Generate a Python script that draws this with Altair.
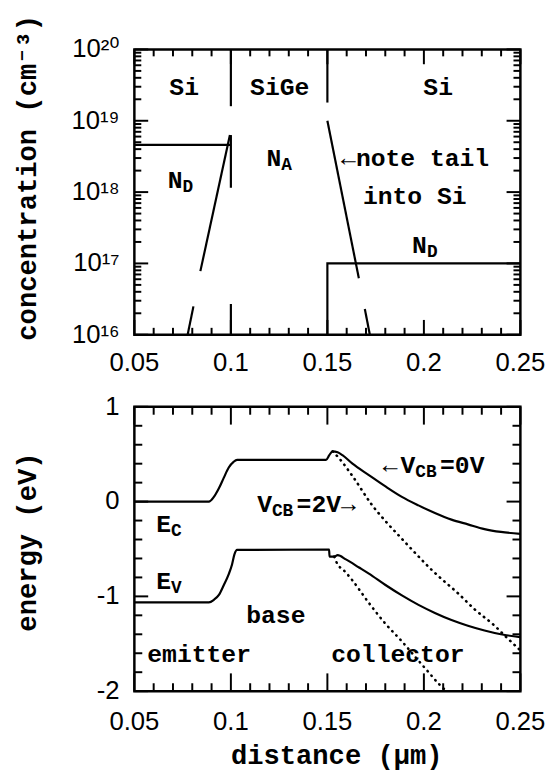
import altair as alt
import pandas as pd

# ---------------- data: top panel (doping profiles) ----------------
seg_names = ["nd_emitter", "if1_a", "if1_b", "if1_c", "if2_a",
             "na_left_a", "na_left_b", "na_right_a", "na_right_b", "nd_collector"]
seg_x = [[0.05, 0.1], [0.1, 0.1], [0.1, 0.1], [0.1, 0.1], [0.15, 0.15],
         [0.0776, 0.0806], [0.0842, 0.0995], [0.15, 0.1663], [0.1694, 0.172],
         [0.15, 0.15, 0.25]]
seg_c = [[4.6e18, 4.6e18], [1e20, 1.6e19], [6.3e18, 1.15e18], [2.7e16, 1e16], [1e20, 1.8e19],
         [1e16, 2.5e16], [7.8e16, 6.3e18], [1e19, 6.2e16], [2.3e16, 1e16],
         [1e16, 1e17, 1e17]]

# ---------------- data: bottom panel (band edges) ----------------
ec0_x = [0.05, 0.0886, 0.0912, 0.0938, 0.0963, 0.0989, 0.1014, 0.1032, 0.1493, 0.151, 0.1527,
         0.1553, 0.1578, 0.163, 0.1715, 0.1801, 0.1886, 0.1972, 0.2057, 0.2143, 0.2228,
         0.2314, 0.2399, 0.25]
ec0_y = [0.0, 0.0, 0.05, 0.14, 0.25, 0.36, 0.42, 0.44, 0.44, 0.49, 0.53,
         0.52, 0.49, 0.40, 0.28, 0.16, 0.05, -0.04, -0.12, -0.19, -0.24,
         -0.29, -0.32, -0.34]
ev0_x = [0.05, 0.0886, 0.0912, 0.0938, 0.0963, 0.0989, 0.1006, 0.1018, 0.1032, 0.1509, 0.1511,
         0.1536, 0.1553, 0.1596, 0.1664, 0.1715, 0.1801, 0.1886, 0.1972, 0.2057, 0.2143,
         0.2228, 0.2314, 0.2399, 0.25]
ev0_y = [-1.063, -1.063, -1.036, -0.985, -0.883, -0.765, -0.663, -0.56, -0.51, -0.505, -0.58,
         -0.58, -0.565, -0.61, -0.695, -0.76, -0.88, -0.99, -1.09, -1.175, -1.25,
         -1.31, -1.36, -1.40, -1.43]
ec2_x = [0.1527, 0.1562, 0.163, 0.1732, 0.1801, 0.1886, 0.1972, 0.204, 0.2091, 0.2177,
         0.2263, 0.2365, 0.2433, 0.25]
ec2_y = [0.53, 0.454, 0.27, -0.038, -0.206, -0.393, -0.579, -0.72, -0.815, -0.968,
         -1.137, -1.307, -1.442, -1.57]
ev2_x = [0.1536, 0.1545, 0.1596, 0.163, 0.1715, 0.1801, 0.1886, 0.1972, 0.2023, 0.2074,
         0.2109, 0.2125]
ev2_y = [-0.58, -0.63, -0.748, -0.832, -1.069, -1.289, -1.475, -1.678, -1.797, -1.916,
         -1.983, -2.0]

# ---------------- ticks / labels ----------------
x_major = [0.05, 0.1, 0.15, 0.2, 0.25]
x_major_labels = ["0.05", "0.1", "0.15", "0.2", "0.25"]
x_minor = [0.06, 0.07, 0.08, 0.09, 0.11, 0.12, 0.13, 0.14, 0.16, 0.17, 0.18, 0.19,
           0.21, 0.22, 0.23, 0.24]
c_major = [1e16, 1e17, 1e18, 1e19, 1e20]
c_major_labels = ["10¹⁶", "10¹⁷", "10¹⁸", "10¹⁹", "10²⁰"]
c_minor = [m * d for d in [1e16, 1e17, 1e18, 1e19] for m in range(2, 10)]
e_major = [1, 0, -1, -2]
e_major_labels = ["1", "0", "-1", "-2"]
e_minor = [0.8, 0.6, 0.4, 0.2, -0.2, -0.4, -0.6, -0.8, -1.2, -1.4, -1.6, -1.8]

# ---------------- titles ----------------
top_y_title = "concentration (cm⁻³)"
bot_y_title = "energy (eV)"
bot_x_title = "distance (µm)"

# ---------------- annotations ----------------
top_main_text = ["N", "N", "N", "←note tail", "into Si"]
top_main_x = [0.0673, 0.1184, 0.1939, 0.1571, 0.1684]
top_main_c = [1.48e18, 3.0e18, 1.78e17, 3.0e18, 8.9e17]
top_sub_text = ["D", "A", "D"]
top_center_text = ["Si", "SiGe", "Si"]
top_center_x = [0.0758, 0.1253, 0.2074]
top_center_c = [2.95e19, 2.95e19, 2.95e19]

bot_main_text = ["E", "E", "V", "V", "emitter", "collector"]
bot_main_x = [0.0613, 0.0613, 0.1879, 0.1136, 0.0567, 0.152]
bot_main_y = [-0.239, -0.843, 0.385, -0.03, -1.614, -1.614]
bot_sub_text = ["C", "V", "CB", "CB"]
bot_suffix_text = ["=0V", "=2V→"]
bot_center_text = ["base"]
bot_center_x = [0.1233]
bot_center_y = [-1.20]

# ---------------- styling ----------------
MONO = "Liberation Mono, DejaVu Sans Mono"
SANS = "Liberation Sans, DejaVu Sans"
W, H1, H2 = 391, 289, 288
FS_TXT = 25
FS_SUB = 18
FS_TITLE = 27.5
FS_LABEL = 26

xs = alt.Scale(domain=[0.05, 0.25], nice=False, zero=False)
ys_top = alt.Scale(type="log", domain=[1e16, 1e20], nice=False)
ys_bot = alt.Scale(domain=[-2, 1], nice=False, zero=False)


def tick_layers(yscale, Hh, ymaj, ymin, xl=(15, 7), yl=(14, 7)):
    layers = []
    for vals, L in [(x_major, xl[0]), (x_minor, xl[1])]:
        base = alt.Chart(pd.DataFrame({"v": vals})).mark_rule(color="black", strokeWidth=2)
        xe = alt.X("v:Q", scale=xs, axis=None)
        layers.append(base.encode(x=xe, y=alt.value(Hh), y2=alt.value(Hh - L)))
        layers.append(base.encode(x=xe, y=alt.value(0), y2=alt.value(L)))
    for vals, L in [(ymaj, yl[0]), (ymin, yl[1])]:
        base = alt.Chart(pd.DataFrame({"v": vals})).mark_rule(color="black", strokeWidth=2)
        ye = alt.Y("v:Q", scale=yscale, axis=None)
        layers.append(base.encode(y=ye, x=alt.value(0), x2=alt.value(L)))
        layers.append(base.encode(y=ye, x=alt.value(W), x2=alt.value(W - L)))
    return layers


def tick_label_layers(yscale, Hh, ymaj, ymaj_labels, x_dy):
    xl = alt.Chart(pd.DataFrame({"v": x_major, "t": x_major_labels})).mark_text(
        font=SANS, fontSize=FS_LABEL, color="black", align="center", baseline="middle").encode(
        x=alt.X("v:Q", scale=xs, axis=None), y=alt.value(Hh + x_dy), text="t:N")
    yl = alt.Chart(pd.DataFrame({"v": ymaj, "t": ymaj_labels})).mark_text(
        font=SANS, fontSize=FS_LABEL, color="black", align="right", baseline="middle").encode(
        y=alt.Y("v:Q", scale=yscale, axis=None), x=alt.value(-15), text="t:N")
    return [xl, yl]


def title_layer(text, px, py, angle=0):
    return alt.Chart(pd.DataFrame({"t": [text]})).mark_text(
        font=MONO, fontWeight="bold", fontSize=FS_TITLE, color="black", align="center",
        baseline="middle", angle=angle).encode(x=alt.value(px), y=alt.value(py), text="t:N")


def text_layer(texts, xv, yv, yscale, align="left", size=FS_TXT, dx=0, dy=0):
    df = pd.DataFrame({"t": texts, "x": xv, "y": yv})
    return alt.Chart(df).mark_text(align=align, baseline="middle", font=MONO, fontWeight="bold",
                                   fontSize=size, dx=dx, dy=dy, color="black").encode(
        x=alt.X("x:Q", scale=xs, axis=None),
        y=alt.Y("y:Q", scale=yscale, axis=None),
        text="t:N")


# ---------------- top panel ----------------
rows = []
for name, xv, cv in zip(seg_names, seg_x, seg_c):
    for i, (a, b) in enumerate(zip(xv, cv)):
        rows.append({"seg": name, "i": i, "x": a, "c": b})
top_df = pd.DataFrame(rows)

top_lines = alt.Chart(top_df).mark_line(color="black", strokeWidth=2.2).encode(
    x=alt.X("x:Q", scale=xs, axis=None),
    y=alt.Y("c:Q", scale=ys_top, axis=None),
    detail="seg:N",
    order="i:Q",
)

top = alt.layer(
    top_lines,
    *tick_layers(ys_top, H1, c_major, c_minor, xl=(15, 7), yl=(14, 7)),
    *tick_label_layers(ys_top, H1, c_major, c_major_labels, 29),
    title_layer(top_y_title, -108, 130, angle=270),
    text_layer(top_main_text, top_main_x, top_main_c, ys_top),
    text_layer(top_sub_text, top_main_x[:3], top_main_c[:3], ys_top, size=FS_SUB, dx=15, dy=7),
    text_layer(top_center_text, top_center_x, top_center_c, ys_top, align="center"),
).properties(width=W, height=H1)

# ---------------- bottom panel ----------------
def series_df(name, xv, yv):
    return pd.DataFrame({"s": name, "i": range(len(xv)), "x": xv, "e": yv})

solid_df = pd.concat([series_df("Ec 0V", ec0_x, ec0_y), series_df("Ev 0V", ev0_x, ev0_y)])
dot_df = pd.concat([series_df("Ec 2V", ec2_x, ec2_y), series_df("Ev 2V", ev2_x, ev2_y)])

bot_solid = alt.Chart(solid_df).mark_line(color="black", strokeWidth=2.2, interpolate="monotone").encode(
    x=alt.X("x:Q", scale=xs, axis=None),
    y=alt.Y("e:Q", scale=ys_bot, axis=None),
    detail="s:N",
    order="i:Q",
)
bot_dot = alt.Chart(dot_df).mark_line(color="black", strokeWidth=2.6, strokeDash=[0.5, 5.5],
                                      strokeCap="round", interpolate="monotone").encode(
    x=alt.X("x:Q", scale=xs, axis=None),
    y=alt.Y("e:Q", scale=ys_bot, axis=None),
    detail="s:N",
    order="i:Q",
)

bottom = alt.layer(
    bot_solid,
    bot_dot,
    *tick_layers(ys_bot, H2, e_major, e_minor, xl=(18, 8), yl=(14, 8)),
    *tick_label_layers(ys_bot, H2, e_major, e_major_labels, 31),
    title_layer(bot_y_title, -108, 137, angle=270),
    title_layer(bot_x_title, 205, H2 + 66),
    text_layer(bot_main_text, bot_main_x, bot_main_y, ys_bot),
    text_layer(bot_sub_text, bot_main_x[:4], bot_main_y[:4], ys_bot, size=FS_SUB, dx=15, dy=7),
    text_layer(bot_suffix_text, bot_main_x[2:4], bot_main_y[2:4], ys_bot, dx=40),
    text_layer(["←"], bot_main_x[2:3], bot_main_y[2:3], ys_bot, align="right", dx=-3),
    text_layer(bot_center_text, bot_center_x, bot_center_y, ys_bot, align="center"),
).properties(width=W, height=H2)

chart = alt.vconcat(top, bottom, spacing=73, bounds="flush").properties(
    padding={"left": 4, "top": 0, "right": 4, "bottom": 2}
).configure_view(stroke="black", strokeWidth=2.5)

chart.save("out.html", embed_options={"renderer": "svg", "actions": False})
